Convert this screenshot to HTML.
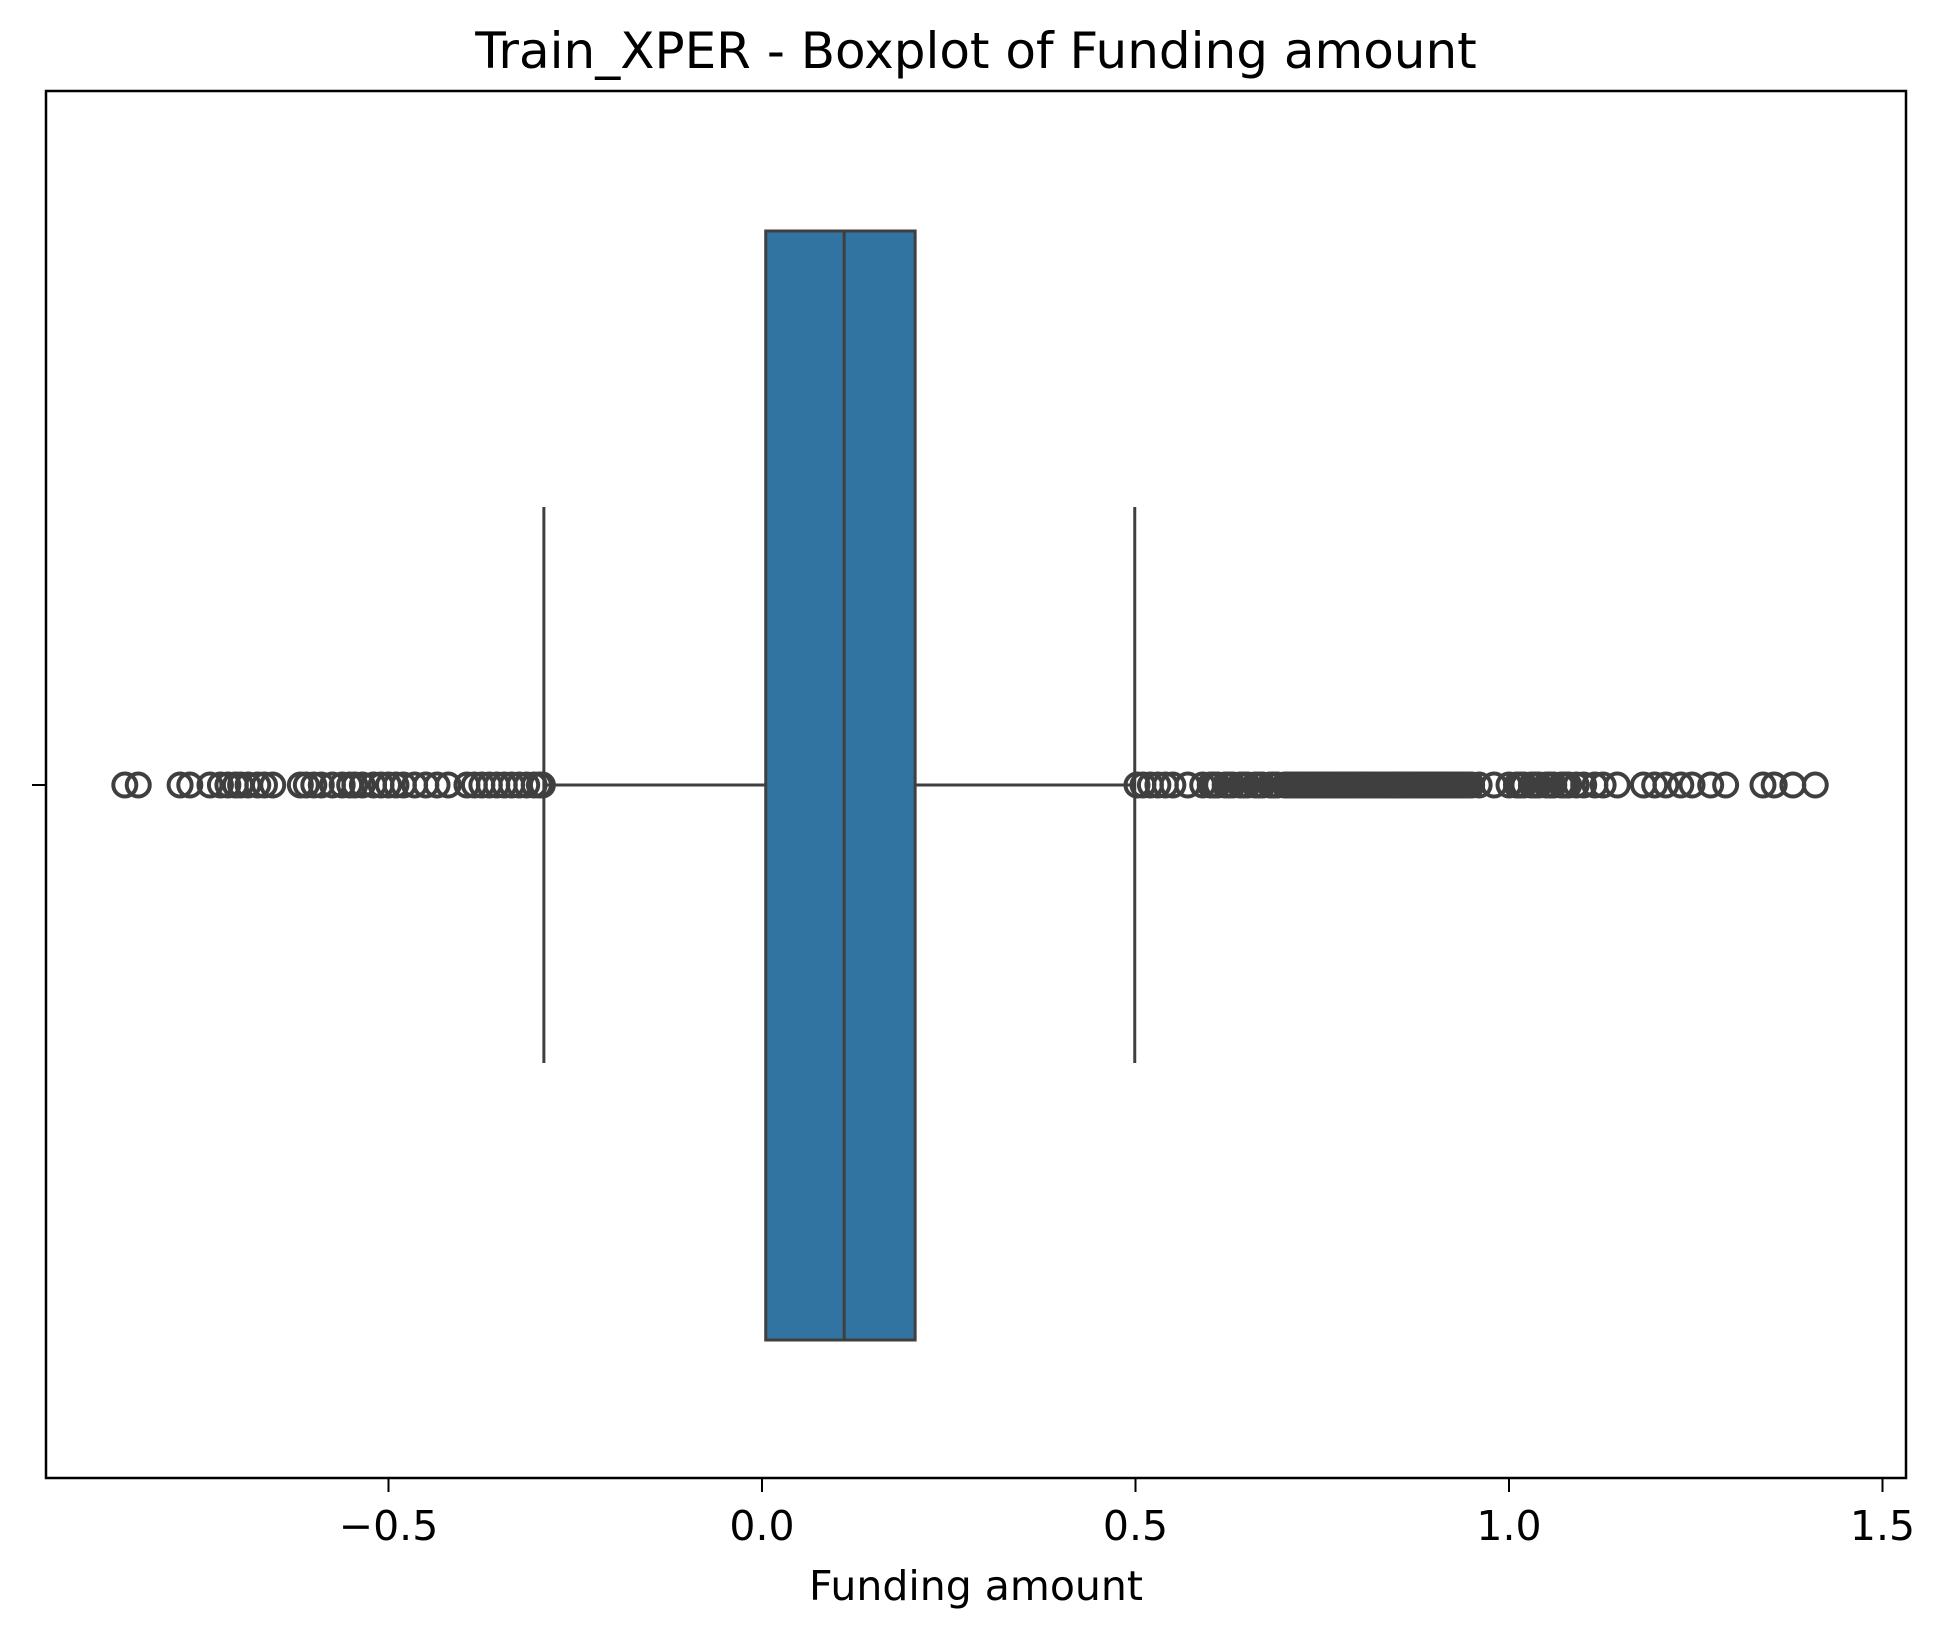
<!DOCTYPE html>
<html><head><meta charset="utf-8"><style>
html,body{margin:0;padding:0;background:#fff;}
svg{display:block;font-family:"DejaVu Sans","Liberation Sans",sans-serif;}
</style></head><body>
<svg id="chart" width="1947" height="1638" viewBox="0 0 1947 1638" xmlns="http://www.w3.org/2000/svg">
<rect width="1947" height="1638" fill="#fff"/>
<text x="976" y="68" font-size="50" text-anchor="middle" fill="#000">Train_XPER - Boxplot of Funding amount</text>
<g id="plot"></g>
<rect x="46" y="91" width="1860" height="1387" fill="none" stroke="#000" stroke-width="2.5"/>
<text x="976" y="1600" font-size="41" text-anchor="middle" fill="#000">Funding amount</text>
</svg>
<script>
const tickValues = [-0.5, 0.0, 0.5, 1.0, 1.5];
const tickLabels = ["\u22120.5", "0.0", "0.5", "1.0", "1.5"];
const q1 = 0.005, median = 0.11, q3 = 0.205;
const whiskerLow = -0.292, whiskerHigh = 0.499;
const lowOutliers = [-0.853,-0.835,-0.779,-0.766,-0.739,-0.725,-0.715,-0.705,-0.698,-0.688,-0.675,-0.666,-0.655,-0.618,-0.61,-0.6,-0.59,-0.575,-0.562,-0.552,-0.545,-0.535,-0.52,-0.51,-0.5,-0.49,-0.48,-0.465,-0.45,-0.435,-0.42,-0.395,-0.385,-0.375,-0.365,-0.355,-0.345,-0.335,-0.325,-0.315,-0.305,-0.298,-0.294];
const highOutliers = [0.502,0.51,0.52,0.53,0.54,0.55,0.57,0.59,0.6,0.605,0.61,0.62,0.625,0.63,0.64,0.645,0.65,0.66,0.665,0.67,0.68,0.685,0.69,0.7,0.703,0.706,0.71,0.714,0.717,0.72,0.724,0.727,0.73,0.734,0.737,0.74,0.744,0.747,0.75,0.754,0.757,0.76,0.764,0.767,0.77,0.774,0.777,0.78,0.784,0.787,0.79,0.794,0.797,0.8,0.804,0.807,0.81,0.814,0.817,0.82,0.824,0.827,0.83,0.834,0.837,0.84,0.844,0.847,0.85,0.854,0.857,0.86,0.864,0.867,0.87,0.874,0.877,0.88,0.884,0.887,0.89,0.894,0.897,0.9,0.904,0.907,0.91,0.914,0.917,0.92,0.924,0.927,0.93,0.934,0.937,0.94,0.945,0.95,0.96,0.98,1.0,1.01,1.015,1.02,1.03,1.035,1.04,1.05,1.055,1.06,1.07,1.075,1.08,1.09,1.1,1.115,1.126,1.145,1.18,1.195,1.21,1.23,1.245,1.27,1.29,1.34,1.355,1.38,1.41];
const X0 = 762, PXU = 747, CY = 785;
function xs(v){ return X0 + PXU*v; }
const NS = "http://www.w3.org/2000/svg";
const g = document.getElementById('plot');
function mk(tag, attrs){ const e=document.createElementNS(NS,tag); for(const k in attrs) e.setAttribute(k,attrs[k]); g.appendChild(e); return e; }
const col = "#3f3f3f";
let e = mk('line',{x1:xs(whiskerLow),x2:xs(q1),y1:CY,y2:CY,stroke:col,'stroke-width':3});


e = mk('line',{x1:xs(q3),x2:xs(whiskerHigh),y1:CY,y2:CY,stroke:col,'stroke-width':3});


e = mk('line',{x1:xs(whiskerLow),x2:xs(whiskerLow),y1:507,y2:1063,stroke:col,'stroke-width':3});


e = mk('line',{x1:xs(whiskerHigh),x2:xs(whiskerHigh),y1:507,y2:1063,stroke:col,'stroke-width':3});


e = mk('rect',{x:xs(q1),y:231,width:xs(q3)-xs(q1),height:1109,fill:'#3274a1',stroke:col,'stroke-width':3});


e = mk('line',{x1:xs(median),x2:xs(median),y1:231,y2:1340,stroke:col,'stroke-width':3});


lowOutliers.concat(highOutliers).forEach(v=>{
  const c = mk('circle',{cx:xs(v),cy:CY,r:11.5,fill:'none',stroke:col,'stroke-width':4});
  
  
});
tickValues.forEach((v,i)=>{
  const t = mk('line',{x1:xs(v),x2:xs(v),y1:1478,y2:1492,stroke:'#000','stroke-width':2});
  
  
  const l = mk('text',{x:xs(v),y:1540,'font-size':41,'text-anchor':'middle',fill:'#000'});
  l.textContent = tickLabels[i];
  
  
});
e = mk('line',{x1:32,x2:46,y1:CY,y2:CY,stroke:'#000','stroke-width':2});


</script>
</body></html>
